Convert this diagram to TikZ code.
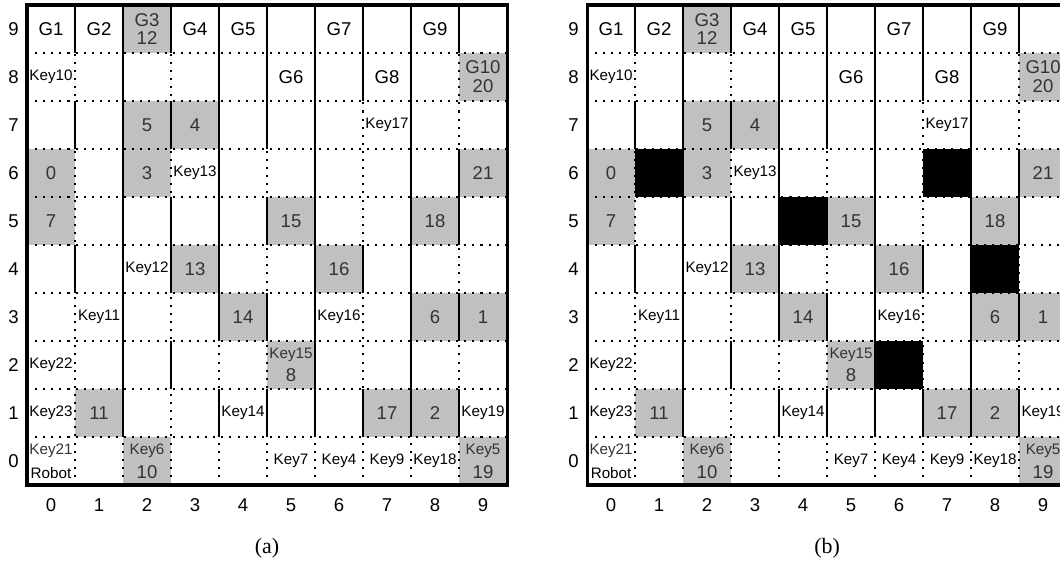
\documentclass[tikz,border=0pt]{standalone}
\usepackage{fontspec}
\setmainfont{Liberation Sans}
\newfontfamily\capfont{Liberation Serif}
\definecolor{cellgray}{RGB}{192,192,192}
\newcommand{\keyf}{\fontsize{9}{10}\selectfont}

\begin{document}
\begin{tikzpicture}[
    wall/.style={line width=1.2pt},
    open/.style={line width=1.2pt,dash pattern=on 1.2pt off 3.6pt},
    frame/.style={line width=1.8pt},
    lbl/.style={inner sep=0pt,align=center,font=\fontsize{11}{11.2}\selectfont},
    keylbl/.style={lbl,font=\keyf},
    graylbl/.style={lbl,text=black!80},
    tick/.style={inner sep=0pt,font=\fontsize{11}{12}\selectfont}]
  \useasboundingbox (-0.5625,-1.896) rectangle (21.52,10.104);
  \clip (-0.5625,-1.896) rectangle (21.52,10.104);
  \foreach \g/\sx in {a/0,b/11.667} {
  \begin{scope}[xshift=\sx cm]
    % occupied cells and their numbers
    \foreach \c/\r/\t in {2/9/{G3\\12}, 9/8/{G10\\20}, 2/7/5, 3/7/4,
        0/6/0, 2/6/3, 9/6/21, 0/5/7, 5/5/15, 8/5/18, 3/4/13, 6/4/16,
        4/3/14, 8/3/6, 9/3/1, 5/2/{{\keyf Key15}\\[2.4pt]8}, 1/1/11,
        7/1/17, 8/1/2, 2/0/{{\keyf Key6}\\[3pt]10},
        9/0/{{\keyf Key5}\\[3pt]19}} {
      \fill[cellgray] (\c,\r) rectangle ++(1,1);
      \node[graylbl] (\g-n-\c-\r) at (\c+.5,\r+.5) {\t};
    }
    % obstacles, only in (b)
    \if b\g
      \foreach \c/\r in {1/6, 7/6, 4/5, 8/4, 6/2}
        \fill (\c,\r) rectangle ++(1,1);
    \fi
    % open passages
    \foreach \i in {1,...,9} {
      \draw[open] (\i,0) -- (\i,10);
      \draw[open] (0,\i) -- (10,\i);
    }
    % walls, row by row
    \foreach \r/\ks in {9/{1,2,3,4,5,6,7,8,9}, 8/{2,4,5,6,7,8},
        7/{1,2,3,4,5,6,8}, 6/{2,4,6,8,9}, 5/{2,3,4,5,6,8,9},
        4/{1,2,3,4,6,7,8}, 3/{2,4,5,6,8,9}, 2/{2,3,6,8},
        1/{2,4,5,6,7,8,9}}
      \foreach \k in \ks
        \draw[wall] (\k,\r) -- (\k,\r+1);
    \draw[frame] (0,0) rectangle (10,10);
    % goals
    \foreach \c/\r/\t in {0/9/G1, 1/9/G2, 3/9/G4, 4/9/G5, 6/9/G7,
        8/9/G9, 5/8/G6, 7/8/G8}
      \node[lbl] (\g-\t) at (\c+.5,\r+.5) {\t};
    % keys
    \foreach \c/\r/\t in {0/8/Key10, 7/7/Key17, 3/6/Key13, 2/4/Key12,
        1/3/Key11, 6/3/Key16, 0/2/Key22, 0/1/Key23, 4/1/Key14,
        9/1/Key19, 5/0/Key7, 6/0/Key4, 7/0/Key9, 8/0/Key18}
      \node[keylbl] (\g-\t) at (\c+.5,\r+.5) {\t};
    \node[keylbl] (\g-robot) at (0.5,0.5)
      {{\color{black!80}Key21}\\[4.2pt]Robot};
    % axes
    \foreach \i in {0,...,9} {
      \node[tick] (\g-row\i) at (-0.28,\i+.5) {\i};
      \node[tick] (\g-col\i) at (\i+.5,-0.42) {\i};
    }
    \node[font=\capfont\fontsize{13}{15}\selectfont] (\g-cap) at (5,-1.31) {(\g)};
  \end{scope}}
\end{tikzpicture}
\end{document}
